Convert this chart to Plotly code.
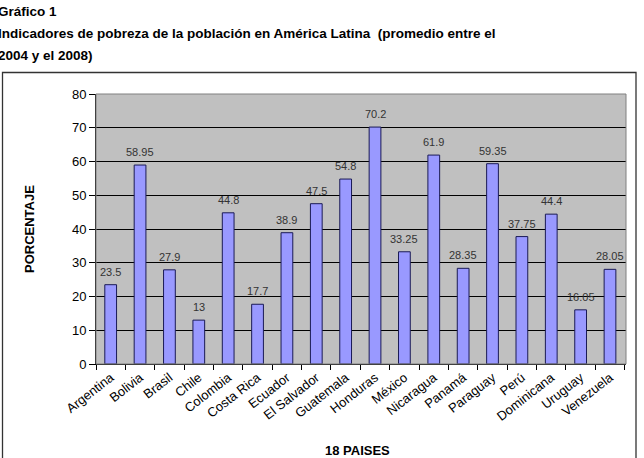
import plotly.graph_objects as go

paises = ["Argentina", "Bolivia", "Brasil", "Chile", "Colombia", "Costa Rica", "Ecuador",
          "El Salvador", "Guatemala", "Honduras", "México", "Nicaragua", "Panamá",
          "Paraguay", "Perú", "Dominicana", "Uruguay", "Venezuela"]
porcentaje = [23.5, 58.95, 27.9, 13, 44.8, 17.7, 38.9, 47.5, 54.8, 70.2, 33.25, 61.9,
              28.35, 59.35, 37.75, 44.4, 16.05, 28.05]
y_ticks = [0, 10, 20, 30, 40, 50, 60, 70, 80]

W, H = 644, 458
L, R, T, B = 96, 18, 94, 94
pw, ph = W - L - R, H - T - B

def px_x(x):
    return (x - L) / pw

def px_y(y):
    return (H - B - y) / ph

fig = go.Figure()
fig.add_trace(go.Bar(
    x=paises, y=porcentaje,
    marker=dict(color="#9999FF", line=dict(color="#1a1a55", width=1)),
    cliponaxis=False, width=0.4,
))
# value labels above bars
for p, v in zip(paises, porcentaje):
    fig.add_annotation(x=p, y=v, text=str(v), showarrow=False, yanchor="bottom",
                       yshift=5, font=dict(family="Liberation Sans, Arial", size=11, color="#333333"))

fig.update_layout(
    width=W, height=H,
    margin=dict(l=L, r=R, t=T, b=B, autoexpand=False),
    paper_bgcolor="white", plot_bgcolor="#C0C0C0",
    showlegend=False,
    font=dict(family="Liberation Sans, Arial", size=13, color="black"),
    xaxis=dict(
        tickangle=-38, tickfont=dict(size=13), ticks="outside", ticklen=5,
        tickson="boundaries", tickcolor="black", automargin=False,
        showline=True, linecolor="black", mirror=False, showgrid=False,
    ),
    yaxis=dict(
        range=[0, 80], tickvals=y_ticks, ticks="outside", ticklen=6, tickcolor="black",
        showgrid=True, gridcolor="black", gridwidth=1, automargin=False,
        showline=True, linecolor="black", zeroline=False,
        tickfont=dict(size=13),
    ),
)

# axis titles
fig.add_annotation(text="<b>PORCENTAJE</b>", xref="paper", yref="paper",
                   x=px_x(29), y=px_y(229), textangle=-90, showarrow=False,
                   xanchor="center", yanchor="middle", font=dict(size=13))
fig.add_annotation(text="<b>18 PAISES</b>", xref="paper", yref="paper",
                   x=px_x(357), y=px_y(450), showarrow=False,
                   xanchor="center", yanchor="middle", font=dict(size=13))

# plot area border (top/right gray)
fig.add_shape(type="rect", xref="paper", yref="paper", x0=0, x1=1, y0=0, y1=1,
              line=dict(color="#808080", width=1), layer="above")
# outer chart box
fig.add_shape(type="rect", xref="paper", yref="paper",
              x0=px_x(2.5), x1=px_x(636), y0=px_y(462), y1=px_y(72.5),
              line=dict(color="#333333", width=1.3))

title_lines = ["Gráfico 1",
               "Indicadores de pobreza de la población en América Latina  (promedio entre el",
               "2004 y el 2008)"]
title_y = [12, 33, 55]
for txt, yy in zip(title_lines, title_y):
    fig.add_annotation(text="<b>" + txt + "</b>", xref="paper", yref="paper",
                       x=px_x(-4), y=px_y(yy), xanchor="left", yanchor="middle",
                       showarrow=False,
                       font=dict(family="Liberation Sans, Arial", size=13.5, color="black"))

fig.write_html("out.html")
